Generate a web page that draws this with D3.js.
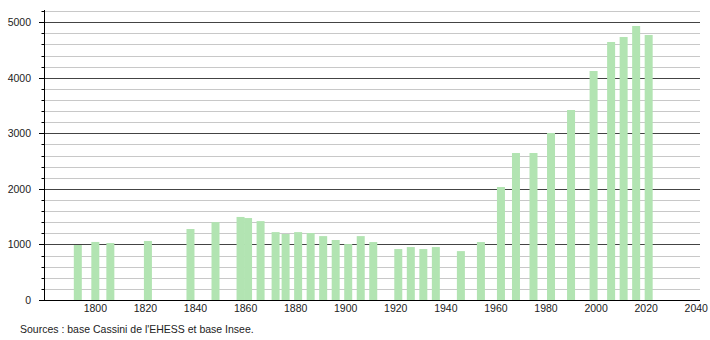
<!DOCTYPE html>
<html><head><meta charset="utf-8">
<script src="https://cdn.jsdelivr.net/npm/d3@7"></script>
<style>body{margin:0;background:#fff;} svg{display:block;font-family:"Liberation Sans",Arial,sans-serif;}</style>
</head><body>
<script>
const years = [1793,1800,1806,1821,1838,1848,1858,1861,1866,1872,1876,1881,1886,1891,1896,1901,1906,1911,1921,1926,1931,1936,1946,1954,1962,1968,1975,1982,1990,1999,2006,2011,2016,2021];
const population = [990,1045,1025,1063,1278,1402,1495,1475,1420,1222,1188,1222,1205,1150,1080,1007,1150,1043,917,953,917,953,880,1043,2034,2646,2646,3006,3420,4122,4644,4734,4932,4770];
const xTicks = [1800,1820,1840,1860,1880,1900,1920,1940,1960,1980,2000,2020,2040];
const yMajor = [0,1000,2000,3000,4000,5000];
const yMinor = d3.range(200,5201,200).filter(v=>v%1000!==0);
const sourceText = "Sources : base Cassini de l'EHESS et base Insee.";

const W=710,H=340;
const svg=d3.select("body").append("svg").attr("width",W).attr("height",H);
const x=d3.scaleLinear().domain([1779.5,2041.5]).range([44,700]);
const y=d3.scaleLinear().domain([0,5200]).range([300,11.1]);

// minor grid
svg.append("g").selectAll("line").data(yMinor).join("line")
  .attr("x1",44).attr("x2",700)
  .attr("y1",d=>Math.round(y(d))+0.5).attr("y2",d=>Math.round(y(d))+0.5)
  .attr("stroke","#c8c8c8").attr("stroke-width",1);
// major grid
svg.append("g").selectAll("line").data(yMajor.filter(d=>d>0)).join("line")
  .attr("x1",44).attr("x2",700)
  .attr("y1",d=>Math.round(y(d))+0.5).attr("y2",d=>Math.round(y(d))+0.5)
  .attr("stroke","#444").attr("stroke-width",1);

// bars
svg.append("g").selectAll("rect").data(years).join("rect")
  .attr("x",(d)=>x(d)-4).attr("width",8)
  .attr("y",(d,i)=>y(population[i])).attr("height",(d,i)=>y(0)-y(population[i]))
  .attr("fill","#b2e4b2");

// y axis
const ya=svg.append("g");
ya.append("line").attr("x1",44.5).attr("x2",44.5).attr("y1",10).attr("y2",300).attr("stroke","#000");
ya.selectAll("line.mi").data(yMinor).join("line").attr("class","mi")
  .attr("x1",41.5).attr("x2",44.5)
  .attr("y1",d=>Math.round(y(d))+0.5).attr("y2",d=>Math.round(y(d))+0.5).attr("stroke","#000");
ya.selectAll("line.ma").data(yMajor).join("line").attr("class","ma")
  .attr("x1",39).attr("x2",44.5)
  .attr("y1",d=>Math.round(y(d))+0.5).attr("y2",d=>Math.round(y(d))+0.5).attr("stroke","#000");
ya.selectAll("text").data(yMajor).join("text")
  .attr("x",31).attr("y",d=>y(d)+4).attr("text-anchor","end")
  .attr("font-size","10.5px").attr("fill","#222").text(d=>d);

// x axis
const xa=svg.append("g");
xa.append("line").attr("x1",39).attr("x2",700).attr("y1",300.5).attr("y2",300.5).attr("stroke","#000");
xa.selectAll("text").data(xTicks).join("text")
  .attr("x",d=>x(d)).attr("y",312).attr("text-anchor","middle")
  .attr("font-size","10.5px").attr("fill","#222").text(d=>d);

svg.append("text").attr("x",20).attr("y",333).attr("font-size","10.5px").attr("fill","#222").text(sourceText);
</script>
</body></html>
